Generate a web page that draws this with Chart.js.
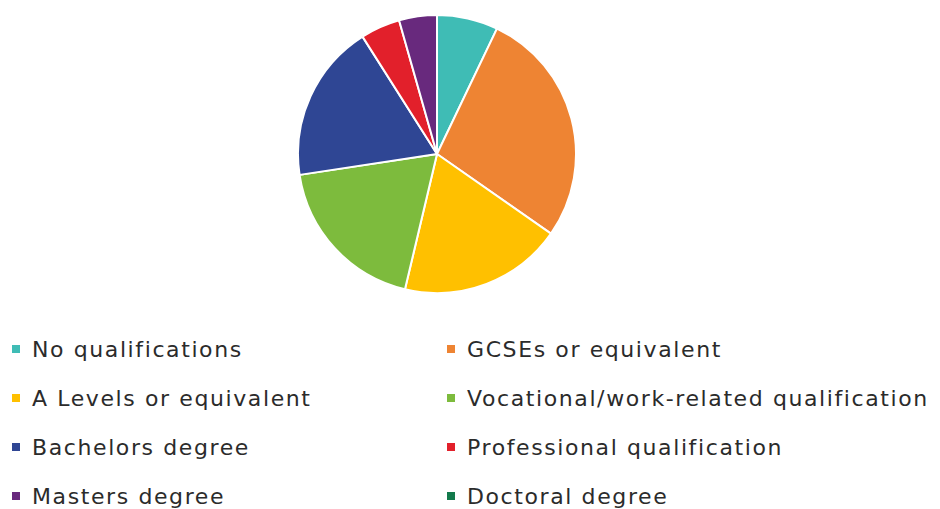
<!DOCTYPE html>
<html>
<head>
<meta charset="utf-8">
<script src="https://cdn.jsdelivr.net/npm/chart.js@4/dist/chart.umd.min.js"></script>
<style>
  html, body { margin: 0; padding: 0; background: #fff; }
  #wrap { position: relative; width: 940px; height: 509px; overflow: hidden; }
  #pie-box { position: absolute; left: 297px; top: 14px; width: 280px; height: 280px; }
  #legend { position: absolute; left: 12px; top: 336px; width: 930px; }
  .leg-item {
    position: absolute; white-space: nowrap;
    font-family: "DejaVu Sans", sans-serif; font-size: 22px; color: #2b2b2b;
    letter-spacing: 1.6px; line-height: 28px;
  }
  .leg-item i {
    display: inline-block; width: 8px; height: 8px; margin-right: 12px; vertical-align: 4px;
  }
</style>
</head>
<body>
<div id="wrap">
  <div id="pie-box"><canvas id="qualChart"></canvas></div>
  <div id="legend"></div>
</div>
<script>
const qualLabels = [
  'No qualifications',
  'GCSEs or equivalent',
  'A Levels or equivalent',
  'Vocational/work-related qualification',
  'Bachelors degree',
  'Professional qualification',
  'Masters degree',
  'Doctoral degree'
];
const qualShare = [7.1, 27.6, 19.0, 18.9, 18.4, 4.6, 4.4, 0];
const qualColors = ['#3fbcb5', '#ee8433', '#ffc000', '#7dbb3d', '#2f4694', '#e2202b', '#68297d', '#137a4c'];

// legend: two columns, filled row by row
const legend = document.getElementById('legend');
legend.innerHTML = qualLabels.map((lbl, i) => {
  const col = i % 2, row = Math.floor(i / 2);
  return `<div class="leg-item" style="left:${col * 435}px; top:${row * 49}px;">` +
         `<i style="background:${qualColors[i]}"></i>${lbl}</div>`;
}).join('');

const ctx = document.getElementById('qualChart').getContext('2d');
new Chart(ctx, {
  type: 'pie',
  data: {
    labels: qualLabels,
    datasets: [{
      data: qualShare,
      backgroundColor: qualColors,
      borderColor: '#ffffff',
      borderWidth: 2
    }]
  },
  options: {
    responsive: true, maintainAspectRatio: false,
    animation: false,
    events: [],
    plugins: { legend: { display: false }, tooltip: { enabled: false } }
  }
});
</script>
</body>
</html>
